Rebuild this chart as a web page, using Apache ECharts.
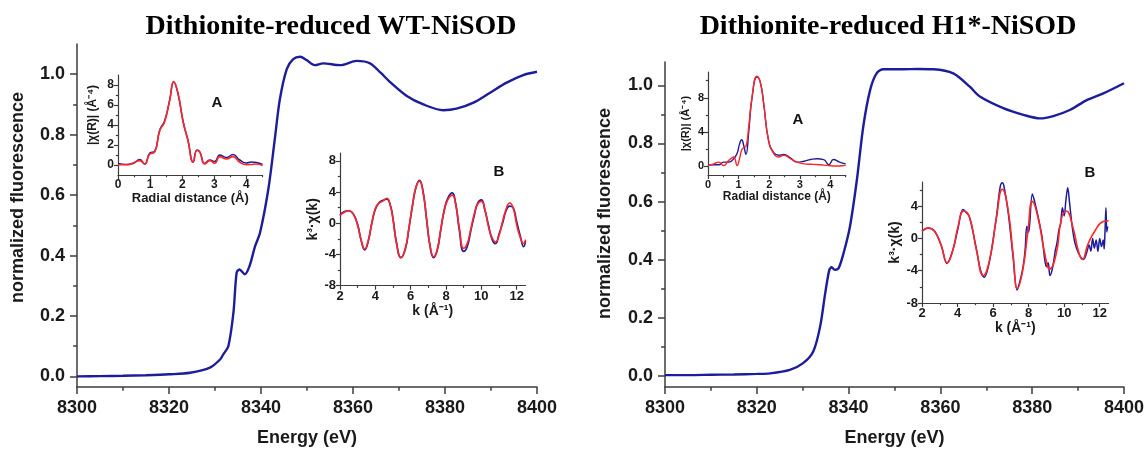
<!DOCTYPE html>
<html><head><meta charset="utf-8">
<script src="https://cdn.jsdelivr.net/npm/echarts@6/dist/echarts.min.js"></script>
<style>html,body{margin:0;padding:0;background:#fff}#c{width:1147px;height:454px}</style>
</head><body><div id="c"></div>
<script>
// ---------- DATA ----------
const titles = ['Dithionite-reduced WT-NiSOD', 'Dithionite-reduced H1*-NiSOD'];
const energyTicks = [8300, 8320, 8340, 8360, 8380, 8400];
const energyMinor = [8310, 8330, 8350, 8370, 8390];
const muTicks = [0.0, 0.2, 0.4, 0.6, 0.8, 1.0];
const muMinor = [0.1, 0.3, 0.5, 0.7, 0.9];

const wtE  = [8300, 8305, 8310, 8315, 8320, 8324.6, 8328.9, 8331.1, 8331.8, 8332.9, 8334.0, 8334.7, 8335.3, 8336.5, 8337.5, 8338.7, 8339.8, 8341.6, 8343.0, 8344.1, 8345.6, 8347.0, 8348.5, 8349.9, 8351.7, 8353.5, 8357.2, 8360.8, 8363.7, 8366.0, 8368.0, 8371.7, 8375.3, 8379.6, 8382.5, 8386.2, 8389.8, 8393.4, 8397.0, 8400];
const wtMu = [0.0, 0.001, 0.002, 0.004, 0.007, 0.012, 0.029, 0.056, 0.073, 0.10, 0.21, 0.343, 0.354, 0.338, 0.365, 0.43, 0.476, 0.62, 0.785, 0.917, 1.017, 1.05, 1.058, 1.047, 1.03, 1.036, 1.03, 1.044, 1.036, 1.005, 0.975, 0.928, 0.90, 0.881, 0.886, 0.906, 0.939, 0.972, 0.997, 1.008];

const h1E  = [8300, 8305, 8310, 8315, 8320, 8322.9, 8327.2, 8330.1, 8332.3, 8333.8, 8334.9, 8335.8, 8336.3, 8337.0, 8337.8, 8338.9, 8340.3, 8341.8, 8343.2, 8344.7, 8346.1, 8347.6, 8351.9, 8355, 8358.5, 8362.8, 8366.4, 8368.6, 8373.7, 8378.1, 8381.7, 8384.6, 8388.2, 8391.9, 8395.5, 8400];
const h1Mu = [0.003, 0.003, 0.004, 0.005, 0.007, 0.009, 0.021, 0.044, 0.084, 0.17, 0.284, 0.365, 0.374, 0.365, 0.37, 0.422, 0.514, 0.674, 0.858, 0.984, 1.041, 1.055, 1.055, 1.056, 1.055, 1.041, 0.995, 0.961, 0.921, 0.898, 0.886, 0.894, 0.915, 0.949, 0.972, 1.007];

// Inset A (WT): Fourier transform magnitude
const wtR      = [0, 0.26, 0.47, 0.68, 0.83, 0.99, 1.14, 1.30, 1.45, 1.61, 1.735, 1.87, 2.03, 2.18, 2.34, 2.46, 2.55, 2.70, 2.86, 3.01, 3.17, 3.38, 3.58, 3.79, 4.0, 4.15, 4.31, 4.5];
const wtFtData = [0.15, 0.05, 0.15, 0.55, 0.1, 1.2, 1.35, 3.5, 4.4, 6.5, 8.3, 7.1, 4.3, 2.45, 0.3, 1.5, 1.3, 0.15, 0.5, 0.35, 1.0, 0.75, 1.05, 0.5, 0.2, 0.3, 0.25, 0.05];
const wtFtFit  = [0.03, 0.03, 0.2, 0.44, 0.1, 1.1, 1.28, 3.46, 4.3, 6.49, 8.34, 7.16, 4.3, 2.45, 0.27, 1.45, 1.28, 0.1, 0.44, 0.17, 0.84, 0.6, 0.84, 0.27, 0.03, 0.05, 0.1, -0.05];

// Inset B (WT): k^3 chi(k)
const wtK      = [2.0, 2.25, 2.5, 2.75, 3.0, 3.2, 3.4, 3.6, 3.8, 4.0, 4.2, 4.4, 4.65, 4.85, 5.0, 5.2, 5.45, 5.7, 5.9, 6.1, 6.3, 6.5, 6.7, 6.9, 7.1, 7.3, 7.5, 7.7, 7.9, 8.1, 8.35, 8.55, 8.75, 9.0, 9.2, 9.4, 9.6, 9.8, 10.0, 10.2, 10.4, 10.6, 10.8, 11.0, 11.2, 11.4, 11.6, 11.8, 12.0, 12.2, 12.4, 12.5];
const wtChiData= [1.0, 1.5, 1.6, 1.2, -0.2, -2.2, -3.4, -2.3, 0.0, 1.8, 2.6, 2.9, 3.1, 2.3, 0.6, -2.5, -4.4, -3.3, -0.7, 2.2, 4.6, 5.5, 4.1, 0.5, -3.0, -4.4, -3.5, -0.9, 1.7, 3.2, 3.9, 2.5, -0.8, -3.6, -3.0, -1.0, 1.0, 2.6, 3.0, 1.7, -0.2, -2.0, -2.6, -1.4, 0.0, 1.6, 2.2, 2.0, 0.2, -1.6, -3.0, -2.3];
const wtChiFit = [1.0, 1.4, 1.6, 1.2, -0.3, -2.2, -3.3, -2.2, 0.0, 1.9, 2.6, 2.8, 3.2, 2.2, 0.5, -2.6, -4.4, -3.2, -0.6, 2.3, 4.6, 5.4, 4.0, 0.6, -2.9, -4.3, -3.4, -0.8, 1.6, 3.0, 3.6, 2.4, -0.5, -3.2, -2.6, -0.8, 1.2, 2.5, 2.8, 1.8, -0.4, -1.8, -2.4, -1.6, 0.2, 1.8, 2.6, 2.0, -0.2, -1.8, -2.6, -2.1];

// Inset A (H1*)
const h1R      = [0, 0.19, 0.35, 0.51, 0.68, 0.84, 0.95, 1.03, 1.1, 1.17, 1.24, 1.33, 1.44, 1.6, 1.71, 1.82, 1.98, 2.15, 2.31, 2.47, 2.69, 2.91, 3.13, 3.35, 3.56, 3.78, 3.95, 4.1, 4.3, 4.5];
const h1FtData = [0.15, 0.2, 0.2, 0.5, 0.5, 0.9, 1.5, 2.6, 3.1, 2.4, 1.4, 4.0, 8.0, 10.4, 9.8, 7.3, 3.0, 1.6, 1.3, 1.4, 1.0, 0.5, 0.6, 0.8, 0.9, 0.8, 0.2, 0.8, 0.5, 0.3];
const h1FtFit  = [0.1, 0.3, 0.5, 0.1, 0.7, 1.1, 0.1, 0.9, 1.9, 2.2, 2.3, 4.6, 8.1, 10.5, 9.8, 7.3, 3.0, 1.5, 1.1, 1.3, 0.9, 0.5, 0.3, 0.25, 0.23, 0.15, 0.1, 0.05, 0.05, 0.15];

// Inset B (H1*)
const h1KData  = [2, 2.34, 2.71, 3.09, 3.4, 3.74, 4.03, 4.3, 4.5, 4.68, 5.06, 5.3, 5.5, 5.8, 6.18, 6.4, 6.52, 6.6, 6.84, 7.12, 7.35, 7.5, 7.68, 7.8, 7.9, 8.0, 8.21, 8.4, 8.6, 8.75, 8.9, 9.0, 9.1, 9.2, 9.35, 9.5, 9.6, 9.7, 9.8, 9.9, 10.0, 10.1, 10.2, 10.3, 10.45, 10.6, 10.8, 11.0, 11.1, 11.2, 11.3, 11.4, 11.5, 11.6, 11.7, 11.8, 11.9, 12.0, 12.1, 12.2, 12.25, 12.3, 12.35, 12.4, 12.45];
const h1ChiData= [0.9, 1.3, 0.9, -0.9, -3.1, -1.4, 1.3, 3.6, 3.2, 2.6, -1.3, -4.0, -4.8, -2.8, 2.6, 6.4, 6.9, 6.6, 3.4, -2.2, -6.4, -5.4, -3.6, -1.5, 1.5, 0.8, 5.5, 4.0, 2.0, 0.3, -2.5, -3.5, -3.0, -4.6, -3.6, -1.5, -0.5, 1.0, 1.8, 3.8, 2.8, 4.8, 6.3, 4.5, 1.5, -0.5, -1.8, -2.5, -2.6, -2.2, -1.5, -0.8, -1.6, 0.0, -1.2, -0.2, -1.6, 0.0, -1.0, -0.2, -1.3, 1.0, 3.8, 0.8, 1.5];
const h1KFit   = [2, 2.34, 2.71, 3.09, 3.41, 3.74, 4.03, 4.35, 4.68, 5.06, 5.45, 5.81, 6.18, 6.52, 6.84, 7.12, 7.37, 7.68, 7.97, 8.21, 8.53, 8.9, 9.19, 9.56, 9.84, 10.12, 10.5, 10.78, 11.02, 11.34, 11.72, 12.19, 12.5];
const h1ChiFit = [0.9, 1.3, 0.9, -0.95, -3.0, -1.4, 1.5, 3.4, 2.6, -1.4, -4.6, -2.6, 2.4, 6.1, 3.6, -1.8, -6.2, -3.8, 1.1, 4.6, 2.6, -1.8, -3.8, -1.8, 2.4, 3.4, 1.3, -1.4, -2.6, -0.7, 0.9, 2.1, 2.2];

// tick positions for insets
const rTicks = [0, 1, 2, 3, 4], rMinor = [0.5, 1.5, 2.5, 3.5, 4.5];
const kTicks = [2, 4, 6, 8, 10, 12], kMinor = [3, 5, 7, 9, 11];
const ftTicksWT = [0, 2, 4, 6, 8], ftMinorWT = [1, 3, 5, 7];
const ftTicksH1 = [0, 4, 8], ftMinorH1 = [2, 6, 10];
const chiTicksWT = [-8, -4, 0, 4, 8], chiMinorWT = [-6, -2, 2, 6];
const chiTicksH1 = [-8, -4, 0, 4], chiMinorH1 = [-6, -2, 2, 6];

// ---------- CHART ----------
const zip = (a, b) => a.map((v, i) => [v, b[i]]);
const BLUE = '#1d1d9b', RED = '#ff2626', AX = '#3c3c3c';
const FONT = 'Liberation Sans, Arial, sans-serif';

function axisPair(kind, gi, min, max, majors, minors, o) {
  const base = {
    type: 'value', gridIndex: gi, min: min, max: max, splitLine: {show: false},
    position: kind === 'x' ? 'bottom' : 'left', offset: 0,
    axisLine: {show: true, onZero: false, lineStyle: {color: AX, width: o.lw || 1.2}},
  };
  const main = Object.assign({}, base, {
    axisTick: {show: true, inside: false, length: o.tl, lineStyle: {color: AX, width: o.lw || 1.2}, customValues: majors},
    axisLabel: {show: true, customValues: majors, margin: o.margin, color: '#1a1a1a', fontFamily: FONT, fontWeight: 'bold', fontSize: o.fs,
      formatter: o.fmt || (v => String(v))},
    name: o.name, nameLocation: 'middle', nameGap: o.gap,
    nameTextStyle: {fontFamily: FONT, fontWeight: 'bold', fontSize: o.nfs, color: '#1a1a1a', padding: o.pad || 0}
  });
  const out = [main];
  if (minors && minors.length) {
    out.push(Object.assign({}, base, {
      axisLine: {show: false, onZero: false},
      axisTick: {show: true, inside: false, length: o.tl * 0.55, lineStyle: {color: AX, width: o.lw || 1.2}, customValues: minors},
      axisLabel: {show: false}
    }));
  }
  return out;
}

const grids = [
  {left: 77, top: 44, width: 460, height: 343},
  {left: 665, top: 62, width: 459, height: 325},
  {left: 118, top: 75, width: 144.5, height: 100},
  {left: 340, top: 153, width: 185.5, height: 132.7},
  {left: 708, top: 72, width: 137.7, height: 103},
  {left: 922, top: 182, width: 186.6, height: 121}
];

const xAxes = [], yAxes = [];
function addX(list) { const idx = xAxes.length; list.forEach(a => xAxes.push(a)); return idx; }
function addY(list) { const idx = yAxes.length; list.forEach(a => yAxes.push(a)); return idx; }

const mainX = {fs: 18, nfs: 18, tl: 7, margin: 12, gap: 42, lw: 1.5, name: 'Energy (eV)'};
const x0 = addX(axisPair('x', 0, 8300, 8400, energyTicks, energyMinor, mainX));
const x1 = addX(axisPair('x', 1, 8300, 8400, energyTicks, energyMinor, mainX));
const y0 = addY(axisPair('y', 0, -0.035, 1.1, muTicks, muMinor, {fs: 18, nfs: 18, tl: 7, margin: 12, gap: 50, lw: 1.5,
  name: 'normalized fluorescence', fmt: v => v.toFixed(1), pad: [0, 0, 0, 36]}));
const y1 = addY(axisPair('y', 1, -0.038, 1.08, muTicks, muMinor, {fs: 18, nfs: 18, tl: 7, margin: 12, gap: 51, lw: 1.5,
  name: 'normalized fluorescence', fmt: v => v.toFixed(1), pad: [0, 0, 0, 22]}));

const x2 = addX(axisPair('x', 2, 0, 4.5, rTicks, rMinor, {fs: 12, nfs: 13, tl: 4, margin: 4, gap: 15, name: 'Radial distance (Å)'}));
const y2 = addY(axisPair('y', 2, -1, 9, ftTicksWT, ftMinorWT, {fs: 12, nfs: 12, tl: 4, margin: 4, gap: 19, name: '|χ(R)| (Å⁻⁴)', pad: [0, 0, 0, 20]}));
const x3 = addX(axisPair('x', 3, 2, 12.5, kTicks, kMinor, {fs: 13, nfs: 14, tl: 4, margin: 4, gap: 18, name: 'k (Å⁻¹)'}));
const y3 = addY(axisPair('y', 3, -8, 9, chiTicksWT, chiMinorWT, {fs: 13, nfs: 14, tl: 4, margin: 4, gap: 17, name: 'k³·χ(k)'}));
const x4 = addX(axisPair('x', 4, 0, 4.5, rTicks, rMinor, {fs: 11, nfs: 12, tl: 4, margin: 4, gap: 13, name: 'Radial distance (Å)'}));
const y4 = addY(axisPair('y', 4, -1, 11, ftTicksH1, ftMinorH1, {fs: 11, nfs: 11, tl: 4, margin: 4, gap: 17, name: '|χ(R)| (Å⁻⁴)'}));
const x5 = addX(axisPair('x', 5, 2, 12.5, kTicks, kMinor, {fs: 13, nfs: 14, tl: 4, margin: 4, gap: 18, name: 'k (Å⁻¹)'}));
const y5 = addY(axisPair('y', 5, -8, 7, chiTicksH1, chiMinorH1, {fs: 13, nfs: 14, tl: 4, margin: 4, gap: 19, name: 'k³·χ(k)'}));

function line(xi, yi, data, color, w, smooth) {
  return {type: 'line', xAxisIndex: xi, yAxisIndex: yi, data: data, showSymbol: false, symbol: 'none',
    smooth: smooth, lineStyle: {color: color, width: w}, itemStyle: {color: color}, z: 3, animation: false};
}

const series = [
  line(x0, y0, zip(wtE, wtMu), BLUE, 2.4, 0.3),
  line(x1, y1, zip(h1E, h1Mu), BLUE, 2.4, 0.3),
  line(x2, y2, zip(wtR, wtFtData), BLUE, 1.5, 0.5),
  line(x2, y2, zip(wtR, wtFtFit), RED, 1.6, 0.5),
  line(x3, y3, zip(wtK, wtChiData), BLUE, 1.7, 0.5),
  line(x3, y3, zip(wtK, wtChiFit), RED, 1.6, 0.5),
  line(x4, y4, zip(h1R, h1FtData), BLUE, 1.4, 0.5),
  line(x4, y4, zip(h1R, h1FtFit), RED, 1.4, 0.5),
  line(x5, y5, zip(h1KData, h1ChiData), BLUE, 1.5, 0.35),
  line(x5, y5, zip(h1KFit, h1ChiFit), RED, 1.6, 0.5)
];

const TFONT = 'bold 28px "Liberation Serif", "Times New Roman", serif';
const chart = echarts.init(document.getElementById('c'), null, {renderer: 'canvas'});
chart.setOption({
  animation: false,
  backgroundColor: '#fff',
  grid: grids,
  xAxis: xAxes,
  yAxis: yAxes,
  series: series,
  graphic: [
    {type: 'text', x: 331, y: 27, style: {text: titles[0], fill: '#000', font: TFONT, align: 'center', verticalAlign: 'middle'}},
    {type: 'text', x: 888, y: 27, style: {text: titles[1], fill: '#000', font: TFONT, align: 'center', verticalAlign: 'middle'}},
    {type: 'text', x: 217, y: 103, style: {text: 'A', fill: '#111', font: 'bold 15px ' + FONT, align: 'center', verticalAlign: 'middle'}},
    {type: 'text', x: 499, y: 172, style: {text: 'B', fill: '#111', font: 'bold 15px ' + FONT, align: 'center', verticalAlign: 'middle'}},
    {type: 'text', x: 798, y: 120, style: {text: 'A', fill: '#111', font: 'bold 15px ' + FONT, align: 'center', verticalAlign: 'middle'}},
    {type: 'text', x: 1090, y: 173, style: {text: 'B', fill: '#111', font: 'bold 15px ' + FONT, align: 'center', verticalAlign: 'middle'}}
  ]
});
</script></body></html>
